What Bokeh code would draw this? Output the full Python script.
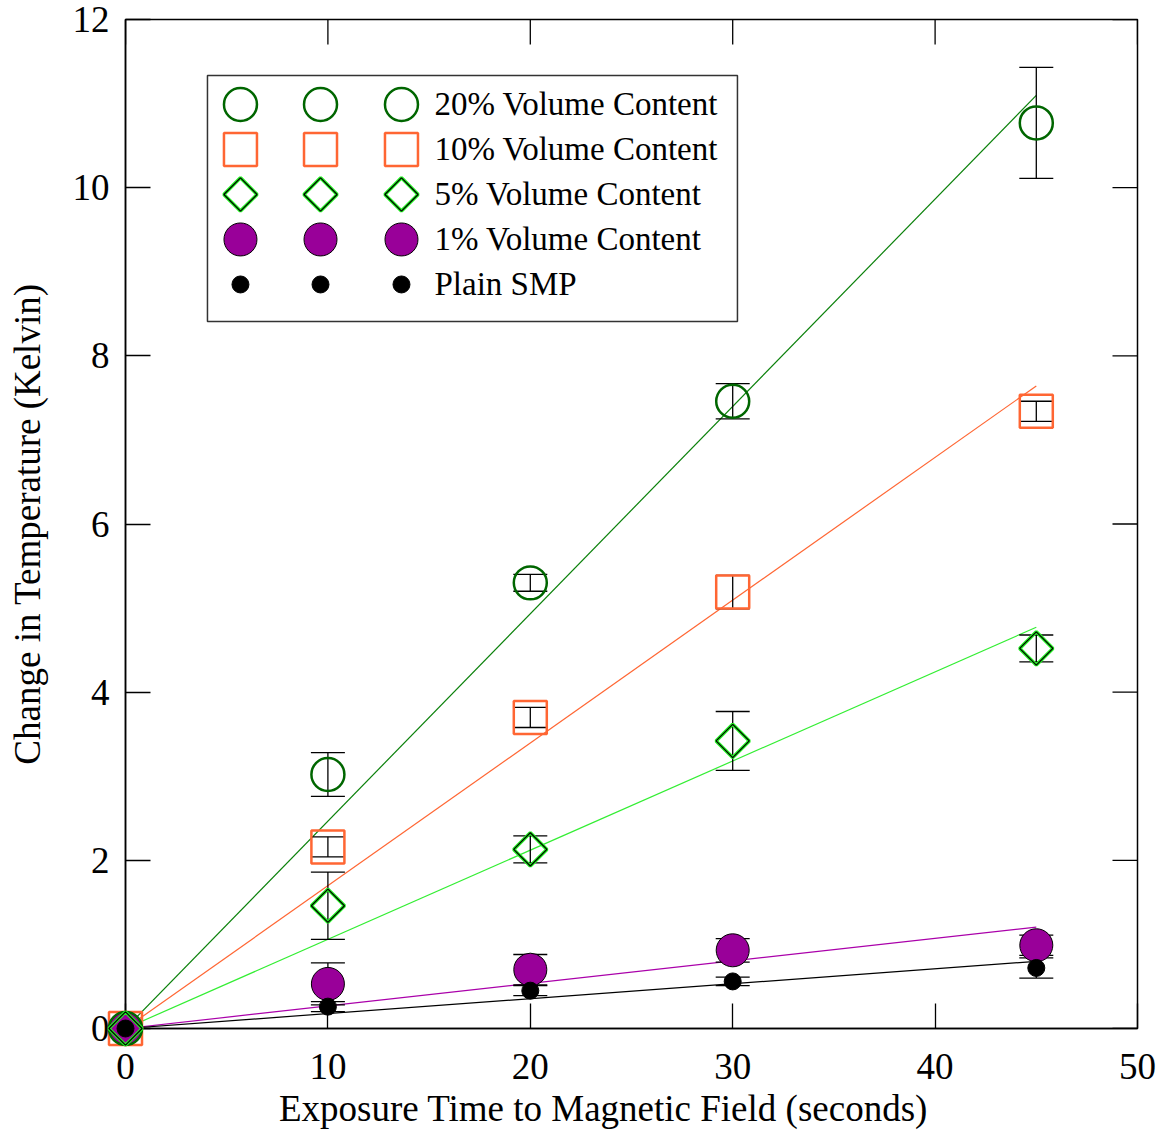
import numpy as np
from bokeh.plotting import figure
from bokeh.models import (Range1d, LinearAxis, ColumnDataSource, Whisker,
                          TeeHead, FixedTicker)
from bokeh.core.properties import value
from bokeh.embed import file_html
from bokeh.resources import INLINE

# Exposure time (s) and measured temperature rise (K) with error estimates
time_s = [0, 10, 20, 30, 45]

vc20 = [0.0, 3.02, 5.30, 7.46, 10.77]
err20 = [0.0, 0.26, 0.10, 0.21, 0.66]

vc10 = [0.0, 2.16, 3.70, 5.19, 7.34]
err10 = [0.0, 0.12, 0.12, 0.20, 0.12]

vc5 = [0.0, 1.46, 2.13, 3.42, 4.52]
err5 = [0.0, 0.40, 0.16, 0.35, 0.16]

vc1 = [0.0, 0.53, 0.70, 0.93, 0.99]
err1 = [0.0, 0.25, 0.18, 0.14, 0.12]

plain = [0.0, 0.26, 0.45, 0.56, 0.72]
err_plain = [0.0, 0.06, 0.06, 0.05, 0.12]

labels = ["20% Volume Content", "10% Volume Content", "5% Volume Content",
          "1% Volume Content", "Plain SMP"]

x_ticks = [0, 10, 20, 30, 40, 50]
y_ticks = [0, 2, 4, 6, 8, 10, 12]
x_max, y_max = 50, 12

FONT = "Liberation Serif"

p = figure(width=1166, height=1134, x_range=Range1d(0, x_max), y_range=Range1d(0, y_max),
           x_axis_type=None, y_axis_type=None,
           output_backend="svg", toolbar_location=None,
           min_border_left=125, min_border_right=29,
           min_border_top=19, min_border_bottom=106)
p.xgrid.visible = False
p.ygrid.visible = False
p.outline_line_color = "black"
p.outline_line_width = 1.5
p.background_fill_color = "white"
p.border_fill_color = "white"

xaxis = LinearAxis(ticker=FixedTicker(ticks=x_ticks))
yaxis = LinearAxis(ticker=FixedTicker(ticks=y_ticks),
                   axis_label="Change in Temperature (Kelvin)")
for ax in (xaxis, yaxis):
    ax.major_tick_in = 25
    ax.major_tick_out = 0
    ax.minor_tick_in = 0
    ax.minor_tick_out = 0
    ax.major_tick_line_color = "black"
    ax.major_tick_line_width = 1.3
    ax.axis_line_color = "black"
    ax.axis_line_width = 1.5
    ax.major_label_text_font = FONT
    ax.major_label_text_color = "black"
    ax.major_label_text_font_size = "37px"
    ax.axis_label_text_font = FONT
    ax.axis_label_text_font_style = "normal"
    ax.axis_label_text_color = "black"
    ax.axis_label_text_font_size = "37px"
xaxis.major_label_standoff = 25
yaxis.major_label_standoff = 16
yaxis.axis_label_standoff = 22
p.add_layout(xaxis, "below")
p.add_layout(yaxis, "left")

# Inward ticks along the top and right edges of the frame
p.ray(x=x_ticks, y=[y_max] * len(x_ticks), length=25, length_units="screen",
      angle=-np.pi / 2, line_color="black", line_width=1.3)
p.ray(x=[x_max] * len(y_ticks), y=y_ticks, length=25, length_units="screen",
      angle=np.pi, line_color="black", line_width=1.3)

t = np.array(time_s, dtype=float)
t_line = np.array([0.0, max(time_s)])

series = [
    dict(y=vc20, e=err20, line="#0A800A"),
    dict(y=vc10, e=err10, line="#FF6633"),
    dict(y=vc5, e=err5, line="#33EE33"),
    dict(y=vc1, e=err1, line="#AA00AA"),
    dict(y=plain, e=err_plain, line="black"),
]


# Marker drawing helper (shared by data and legend)
def draw_marker(kind, x, y, **kw):
    if kind == 0:
        p.scatter(x, y, marker="circle", size=33, fill_color=None,
                  line_color="#006600", line_width=2.5, **kw)
    elif kind == 1:
        p.scatter(x, y, marker="square", size=33, fill_color=None,
                  line_color="#FF6633", line_width=2.5, **kw)
    elif kind == 2:
        p.scatter(x, y, marker="square", angle=np.pi / 4, size=23.5, fill_color=None,
                  line_color="#22EE22", line_width=3.5, **kw)
        p.scatter(x, y, marker="square", angle=np.pi / 4, size=23.5, fill_color=None,
                  line_color="black", line_width=1.2, **kw)
    elif kind == 3:
        p.scatter(x, y, marker="circle", size=33, fill_color="#990099",
                  line_color="black", line_width=1, **kw)
    else:
        p.scatter(x, y, marker="circle", size=17, fill_color="black",
                  line_color="black", line_width=1, **kw)


# Data markers, stacked so that every series stays visible at the origin
for kind in (1, 3, 0, 2, 4):
    draw_marker(kind, list(t), series[kind]["y"], level="overlay")

# Least-squares fits through the origin
for s in series:
    y = np.array(s["y"])
    slope = float(np.sum(t * y) / np.sum(t * t))
    p.line(t_line, slope * t_line, line_color=s["line"], line_width=1.2)

# Error bars
for s in series:
    y = np.array(s["y"])
    e = np.array(s["e"])
    keep = e > 0
    src = ColumnDataSource(dict(x=t[keep], upper=(y + e)[keep], lower=(y - e)[keep]))
    w = Whisker(base="x", upper="upper", lower="lower", source=src,
                dimension="height", line_color="black", line_width=1.3,
                upper_head=TeeHead(size=34, line_color="black", line_width=1.3),
                lower_head=TeeHead(size=34, line_color="black", line_width=1.3),
                level="annotation")
    p.add_layout(w)

# Legend panel and x-axis title in frame-fraction coordinates
p.extra_x_ranges = {"fx": Range1d(0, 1)}
p.extra_y_ranges = {"fy": Range1d(0, 1)}
box_l, box_r, box_b, box_t = 0.081, 0.6047, 0.7007, 0.9445
p.quad(left=[box_l], right=[box_r], bottom=[box_b], top=[box_t],
       fill_color="white", line_color="#333333", line_width=1.5,
       x_range_name="fx", y_range_name="fy", level="annotation")

cols = [0.1136, 0.1927, 0.2727]
rows = [0.9158, 0.8712, 0.8266, 0.7820, 0.7374]
text_x = 0.3053
for kind, (row, lab) in enumerate(zip(rows, labels)):
    draw_marker(kind, cols, [row] * 3, x_range_name="fx", y_range_name="fy",
                level="annotation")
    p.text([text_x], [row], text=[lab], text_font=value(FONT),
           text_font_size="33px", text_baseline="middle", text_align="left",
           text_color="black", x_range_name="fx", y_range_name="fy",
           level="annotation")

p.text([0.4723], [-0.0793], text=["Exposure Time to Magnetic Field (seconds)"],
       text_font=value(FONT), text_font_size="37px", text_color="black",
       text_align="center", text_baseline="middle",
       x_range_name="fx", y_range_name="fy", level="overlay")

open("out.html", "w").write(file_html(p, INLINE))
